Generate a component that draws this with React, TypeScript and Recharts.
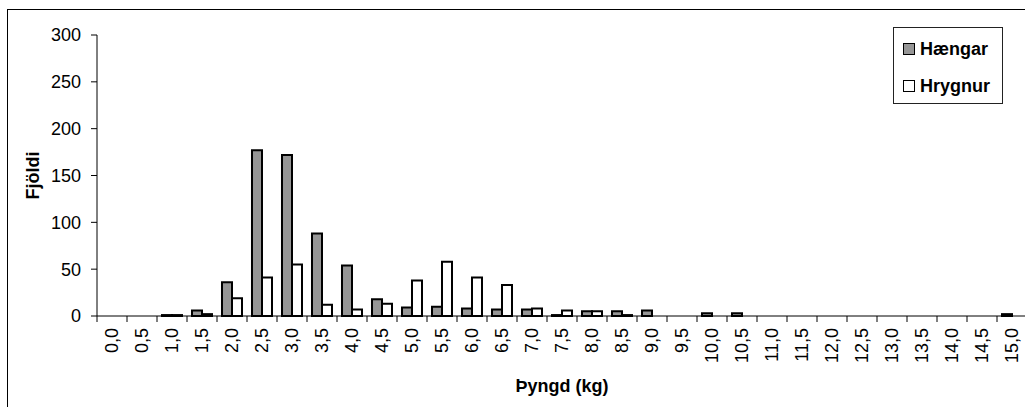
import { Bar, BarChart, XAxis, YAxis } from 'recharts'

// Weight classes (kg) and counts per sex.
const WEIGHT_LABELS = [
  '0,0', '0,5', '1,0', '1,5', '2,0', '2,5', '3,0', '3,5', '4,0', '4,5',
  '5,0', '5,5', '6,0', '6,5', '7,0', '7,5', '8,0', '8,5', '9,0', '9,5',
  '10,0', '10,5', '11,0', '11,5', '12,0', '12,5', '13,0', '13,5', '14,0', '14,5',
  '15,0',
]
const HAENGAR = [
  0, 0, 1, 6, 36, 177, 172, 88, 54, 18,
  9, 10, 8, 7, 7, 1, 5, 5, 6, 0,
  3, 3, 0, 0, 0, 0, 0, 0, 0, 0,
  2,
]
const HRYGNUR = [
  0, 0, 1, 2, 19, 41, 55, 12, 7, 13,
  38, 58, 41, 33, 8, 6, 5, 1, 0, 0,
  0, 0, 0, 0, 0, 0, 0, 0, 0, 0,
  0,
]
const Y_TICKS = [0, 50, 100, 150, 200, 250, 300]

const FONT = '"Liberation Sans", Arial, sans-serif'
const GRAY = '#969696'
const INK = '#000000'
const BAND = 30
const TICK = 6

const data = WEIGHT_LABELS.map((label, i) => ({
  label,
  haengar: HAENGAR[i],
  hrygnur: HRYGNUR[i],
}))

// Excel-style category tick: tick mark sits between categories, label rotated.
function WeightTick({ x, y, payload, index }: any) {
  const left = x - BAND / 2
  const isLast = index === WEIGHT_LABELS.length - 1
  const ty = y + 6
  return (
    <g>
      <line x1={left} x2={left} y1={y - TICK} y2={y} stroke={INK} />
      {isLast && <line x1={x + BAND / 2} x2={x + BAND / 2} y1={y - TICK} y2={y} stroke={INK} />}
      <text
        x={x}
        y={ty}
        transform={`rotate(-90, ${x}, ${ty})`}
        textAnchor="end"
        dominantBaseline="central"
        fontSize={18}
        fontFamily={FONT}
        fill={INK}
      >
        {payload.value}
      </text>
    </g>
  )
}

function LegendBox() {
  const items = [
    { name: 'Hængar', fill: GRAY },
    { name: 'Hrygnur', fill: '#ffffff' },
  ]
  return (
    <div
      style={{
        position: 'absolute',
        left: 893,
        top: 27,
        width: 108,
        height: 75,
        border: '1px solid #222',
        background: '#fff',
        fontFamily: FONT,
        fontWeight: 'bold',
        fontSize: 18,
      }}
    >
      {items.map((item, i) => (
        <div
          key={item.name}
          style={{
            display: 'flex',
            alignItems: 'center',
            position: 'absolute',
            left: 9,
            top: i === 0 ? 10 : 47,
            height: 22,
          }}
        >
          <span
            style={{
              display: 'inline-block',
              width: 10,
              height: 10,
              background: item.fill,
              border: `1.5px solid ${INK}`,
              marginRight: 5,
            }}
          />
          <span>{item.name}</span>
        </div>
      ))}
    </div>
  )
}

export default function App() {
  return (
    <div
      style={{
        position: 'absolute',
        left: 0,
        top: 0,
        width: 1025,
        height: 407,
        overflow: 'hidden',
        background: '#fff',
      }}
    >
      <div
        style={{
          position: 'absolute',
          left: 7,
          top: 9,
          width: 1040,
          height: 420,
          border: `1px solid ${INK}`,
        }}
      />
      <div style={{ position: 'absolute', left: 0, top: 0 }}>
        <BarChart
          width={1040}
          height={407}
          data={data}
          margin={{ top: 35, right: 13, bottom: 0, left: 0 }}
          barGap={0}
          barSize={10}
        >
          <XAxis
            dataKey="label"
            interval={0}
            height={91}
            tickLine={false}
            tickSize={TICK}
            tickMargin={0}
            axisLine={{ stroke: INK }}
            tick={<WeightTick />}
            label={{
              content: ({ viewBox }: any) => (
                <text
                  x={viewBox.x + viewBox.width / 2}
                  y={viewBox.y + 76}
                  textAnchor="middle"
                  fontSize={18}
                  fontWeight="bold"
                  fontFamily={FONT}
                  fill={INK}
                >
                  Þyngd (kg)
                </text>
              ),
            }}
          />
          <YAxis
            width={97}
            domain={[0, 300]}
            ticks={Y_TICKS}
            interval={0}
            tickSize={TICK}
            tickMargin={10}
            axisLine={{ stroke: INK }}
            tickLine={{ stroke: INK }}
            tick={{ fill: INK, fontSize: 18, fontFamily: FONT }}
            label={{
              content: ({ viewBox }: any) => {
                const cx = viewBox.x + 33
                const cy = viewBox.y + viewBox.height / 2
                return (
                  <text
                    x={cx}
                    y={cy}
                    transform={`rotate(-90, ${cx}, ${cy})`}
                    textAnchor="middle"
                    dominantBaseline="central"
                    fontSize={18}
                    fontWeight="bold"
                    fontFamily={FONT}
                    fill={INK}
                  >
                    Fjöldi
                  </text>
                )
              },
            }}
          />
          <Bar
            dataKey="haengar"
            name="Hængar"
            fill={GRAY}
            stroke={INK}
            strokeWidth={2}
            isAnimationActive={false}
          />
          <Bar
            dataKey="hrygnur"
            name="Hrygnur"
            fill="#ffffff"
            stroke={INK}
            strokeWidth={2}
            isAnimationActive={false}
          />
        </BarChart>
      </div>
      <LegendBox />
    </div>
  )
}
